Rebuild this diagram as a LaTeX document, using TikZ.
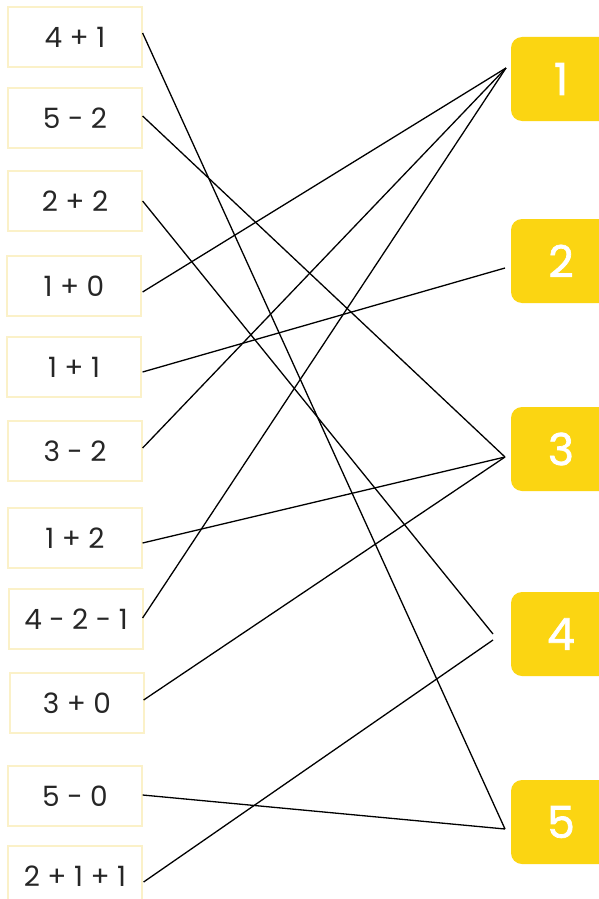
\documentclass[tikz,border=0pt]{standalone}
\usepackage{fontspec}
\setmainfont{Poppins}
\newfontfamily\ansfont[FakeBold=1.6]{Poppins}
\definecolor{boxedge}{HTML}{FBF1C8}
\definecolor{ansyellow}{HTML}{FBD512}
\definecolor{txt}{HTML}{262626}
\begin{document}
\begin{tikzpicture}[x=1pt,y=-1pt,
  expr/.style={draw=boxedge,line width=1.2pt,minimum width=134pt,minimum height=60pt,inner sep=0pt,text=txt,font=\fontsize{28}{32}\selectfont},
  ans/.style={fill=ansyellow,rounded corners=11pt,minimum width=100pt,minimum height=84pt,inner sep=0pt,text=white,font=\ansfont\fontsize{44}{48}\selectfont},
  link/.style={black,line width=1.3pt}]
\useasboundingbox (0,0) rectangle (599,899);
\fill[white] (0,0) rectangle (599,899);
% left expressions
\node[expr] (L1) at (75,37) {4 + 1};
\node[expr] (L2) at (75,118) {5 - 2};
\node[expr] (L3) at (75,201) {2 + 2};
\node[expr] (L4) at (74,286) {1 + 0};
\node[expr] (L5) at (74,367) {1 + 1};
\node[expr] (L6) at (75,451) {3 - 2};
\node[expr] (L7) at (75,538) {1 + 2};
\node[expr] (L8) at (76,619) {4 - 2 - 1};
\node[expr] (L9) at (77,703) {3 + 0};
\node[expr] (L10) at (75,796) {5 - 0};
\node[expr] (L11) at (75,876) {2 + 1 + 1};
% answers
\node[ans] (A1) at (561,79) {1};
\node[ans] (A2) at (561,261) {2};
\node[ans] (A3) at (561,449) {3};
\node[ans] (A4) at (561,634) {4};
\node[ans] (A5) at (561,822) {5};
% connector ends
\coordinate (e1) at (506,68);
\coordinate (e2) at (505,268);
\coordinate (e3) at (505,457);
\coordinate (e4a) at (493,634);
\coordinate (e4b) at (493,640);
\coordinate (e5) at (505,829);
% connectors
\draw[link] ([yshift=4pt]L1.east) -- (e5);
\draw[link] ([yshift=2pt]L2.east) -- (e3);
\draw[link] (L3.east) -- (e4a);
\draw[link] ([xshift=1pt,yshift=-6pt]L4.east) -- (e1);
\draw[link] ([xshift=1pt,yshift=-5pt]L5.east) -- (e2);
\draw[link] ([yshift=3pt]L6.east) -- (e1);
\draw[link] ([yshift=-5pt]L7.east) -- (e3);
\draw[link] ([xshift=-1pt,yshift=1pt]L8.east) -- (e1);
\draw[link] ([xshift=-1pt,yshift=3pt]L9.east) -- (e3);
\draw[link] ([yshift=1pt]L10.east) -- (e5);
\draw[link] ([xshift=1pt,yshift=-6pt]L11.east) -- (e4b);
\end{tikzpicture}
\end{document}
